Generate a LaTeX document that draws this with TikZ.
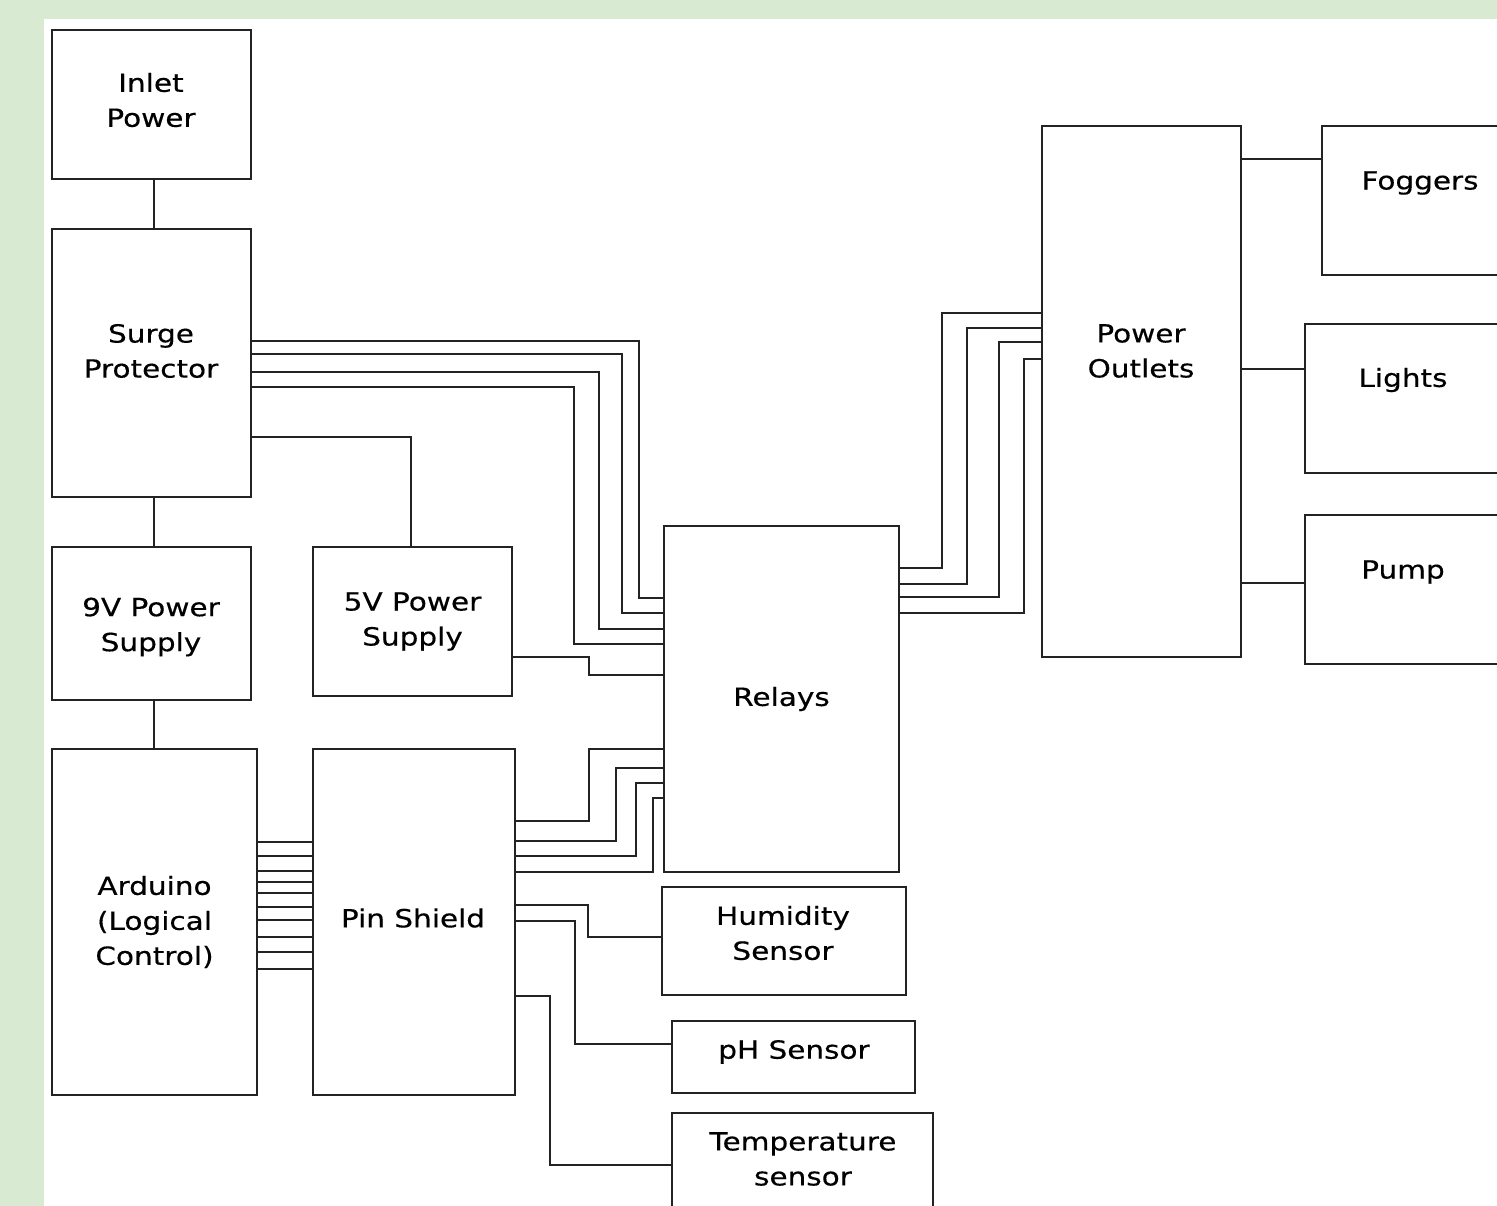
\documentclass[tikz,border=0pt]{standalone}
\usepackage{fontspec}
\setmainfont[FakeStretch=1.18,FakeBold=0.4]{DejaVu Sans}
\usepackage{xcolor}
\usepackage{tikz}
\definecolor{BGgreen}{RGB}{217,234,211}
\definecolor{WIREgray}{RGB}{35,35,35}

\begin{document}
\begin{tikzpicture}[
  x=1pt,y=-1pt,
  blk/.style={rectangle,draw=WIREgray,line width=2pt,align=center,font=\fontsize{25}{35}\selectfont,inner sep=0pt},
  lbl/.style={align=center,font=\fontsize{25}{35}\selectfont,inner sep=0pt},
  wire/.style={line width=2pt,draw=WIREgray},
]
\useasboundingbox (0,0) rectangle (1497,1206);
\clip (0,0) rectangle (1497,1206);
\fill[BGgreen] (0,0) rectangle (1497,1206);
\fill[white] (44,19) rectangle (1497,1206);

% Alimentacion
\node[blk,minimum width=199pt,minimum height=149pt] (inlet) at (151.5,104.5) {};
\node[lbl] (inlettxt) at (151,100) {Inlet\\Power};
\node[blk,minimum width=199pt,minimum height=268pt] (surge) at (151.5,363) {};
\node[lbl] (surgetxt) at (151,351) {Surge\\Protector};
\node[blk,minimum width=199pt,minimum height=153pt] (psu9) at (151.5,623.5) {};
\node[lbl] (psu9txt) at (151,627) {9V Power\\Supply};
\node[blk,minimum width=199pt,minimum height=149pt] (psu5) at (412.5,621.5) {5V Power\\Supply};

% Control
\node[blk,minimum width=205pt,minimum height=346pt] (arduino) at (154.5,922) {Arduino\\(Logical\\Control)};
\node[blk,minimum width=202pt,minimum height=346pt] (pin) at (414,922) {};
\node[lbl] (pintxt) at (413,918) {Pin Shield};
\node[blk,minimum width=235pt,minimum height=346pt] (relays) at (781.5,699) {Relays};

% Sensores
\node[blk,minimum width=244pt,minimum height=108pt] (humidity) at (784,941) {};
\node[lbl] (humiditytxt) at (783,933) {Humidity\\Sensor};
\node[blk,minimum width=243pt,minimum height=72pt] (ph) at (793.5,1057) {};
\node[lbl] (phtxt) at (794,1052) {pH Sensor};
\node[blk,minimum width=261pt,minimum height=100pt] (temp) at (802.5,1163) {};
\node[lbl] (temptxt) at (803,1159) {Temperature\\sensor};

% Salidas
\node[blk,minimum width=199pt,minimum height=531pt] (outlets) at (1141.5,391.5) {};
\node[lbl] (outletstxt) at (1141,351) {Power\\Outlets};
\node[blk,minimum width=200pt,minimum height=149pt] (foggers) at (1422,200.5) {};
\node[lbl] (foggerstxt) at (1420,183) {Foggers};
\node[blk,minimum width=200pt,minimum height=149pt] (lights) at (1405,398.5) {};
\node[lbl] (lightstxt) at (1403,380) {Lights};
\node[blk,minimum width=200pt,minimum height=149pt] (pump) at (1405,589.5) {};
\node[lbl] (pumptxt) at (1403,572) {Pump};

% Cables
\draw[wire] (154,0 |- inlet.south) -- (154,0 |- surge.north);
\draw[wire] (154,0 |- surge.south) -- (154,0 |- psu9.north);
\draw[wire] (154,0 |- psu9.south) -- (154,0 |- arduino.north);
\draw[wire] (surge.east |- 0,437) -| (411,0 |- psu5.north);
\foreach \ya/\xm/\yb in {341/639/598, 354/622/613, 372/599/629, 387/574/644}
  \draw[wire] (surge.east |- 0,\ya) -| (\xm,\yb) -- (relays.west |- 0,\yb);
\draw[wire] (psu5.east |- 0,657) -| (589,675) -- (relays.west |- 0,675);
\foreach \ya/\xm/\yb in {568/942/313, 584/967/328, 597/999/342, 613/1024/359}
  \draw[wire] (relays.east |- 0,\ya) -| (\xm,\yb) -- (outlets.west |- 0,\yb);
\draw[wire] (outlets.east |- 0,159) -- (foggers.west |- 0,159);
\draw[wire] (outlets.east |- 0,369) -- (lights.west |- 0,369);
\draw[wire] (outlets.east |- 0,583) -- (pump.west |- 0,583);
\foreach \y in {842,856,871,882,893,907,920,937,952,969}
  \draw[wire] (arduino.east |- 0,\y) -- (pin.west |- 0,\y);
\foreach \ya/\xm/\yb in {821/589/749, 841/616/768, 856/636/783, 872/653/798}
  \draw[wire] (pin.east |- 0,\ya) -| (\xm,\yb) -- (relays.west |- 0,\yb);
\draw[wire] (pin.east |- 0,905) -| (588,937) -- (humidity.west |- 0,937);
\draw[wire] (pin.east |- 0,921) -| (575,1044) -- (ph.west |- 0,1044);
\draw[wire] (pin.east |- 0,996) -| (550,1165) -- (temp.west |- 0,1165);

\end{tikzpicture}
\end{document}
